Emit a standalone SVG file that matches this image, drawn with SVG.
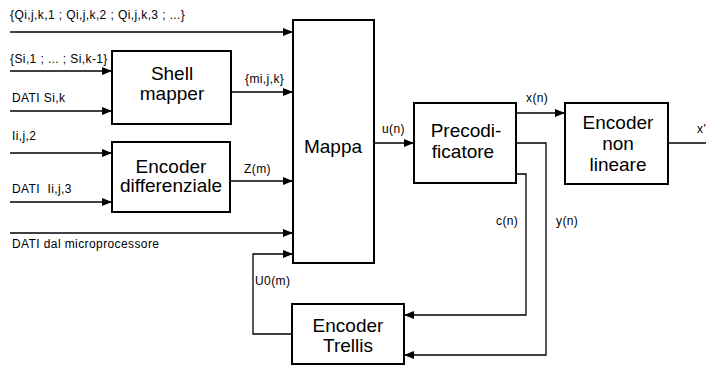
<svg xmlns="http://www.w3.org/2000/svg" width="706" height="367" viewBox="0 0 706 367">
<defs>
<marker id="ah" markerWidth="10" markerHeight="8" refX="10" refY="4" orient="auto" markerUnits="userSpaceOnUse">
<path d="M0,0 L10,4 L0,8 Z" fill="#000"/>
</marker>
<style>
.box{fill:#fff;stroke:#000;stroke-width:2}
.ln{fill:none;stroke:#000;stroke-width:1.3}
.big{font-family:"Liberation Sans",Arial,sans-serif;font-size:19px;text-anchor:middle;fill:#000}
.sm{font-family:"Liberation Sans",Arial,sans-serif;font-size:12px;letter-spacing:0.4px;fill:#000}
</style>
</defs>
<rect width="706" height="367" fill="#fff"/>
<g id="connectors">
<path class="ln" d="M10,32 H293" marker-end="url(#ah)"/>
<path class="ln" d="M10,71 H112" marker-end="url(#ah)"/>
<path class="ln" d="M10,111 H112" marker-end="url(#ah)"/>
<path class="ln" d="M231,92 H293" marker-end="url(#ah)"/>
<path class="ln" d="M10,153 H112" marker-end="url(#ah)"/>
<path class="ln" d="M10,202 H112" marker-end="url(#ah)"/>
<path class="ln" d="M230,181 H293" marker-end="url(#ah)"/>
<path class="ln" d="M10,233 H293" marker-end="url(#ah)"/>
<path class="ln" d="M292,334 H253 V254 H293" marker-end="url(#ah)"/>
<path class="ln" d="M374,143 H414" marker-end="url(#ah)"/>
<path class="ln" d="M516,113 H565" marker-end="url(#ah)"/>
<path class="ln" d="M668,143 H706"/>
<path class="ln" d="M516,143 H546 V355 H404" marker-end="url(#ah)"/>
<path class="ln" d="M516,174 H526 V315 H404" marker-end="url(#ah)"/>
<text class="sm" x="10" y="19">{Qi,j,k,1 ; Qi,j,k,2 ; Qi,j,k,3 ; ...}</text>
<text class="sm" x="10" y="63">{Si,1 ; ... ; Si,k-1}</text>
<text class="sm" x="12" y="102">DATI Si,k</text>
<text class="sm" x="245" y="83">{mi,j,k}</text>
<text class="sm" x="12" y="140">Ii,j,2</text>
<text class="sm" x="12" y="193" xml:space="preserve">DATI  Ii,j,3</text>
<text class="sm" x="244" y="173">Z(m)</text>
<text class="sm" x="12" y="248">DATI dal microprocessore</text>
<text class="sm" x="255" y="285">U0(m)</text>
<text class="sm" x="382" y="133">u(n)</text>
<text class="sm" x="526" y="102">x(n)</text>
<text class="sm" x="697" y="133">x'</text>
<text class="sm" x="496" y="225">c(n)</text>
<text class="sm" x="556" y="225">y(n)</text>
</g>
<g id="shell">
<rect class="box" x="112" y="51" width="119" height="73"/>
<text class="big" x="172" y="80">Shell</text>
<text class="big" x="172" y="100">mapper</text>
</g>
<g id="encdiff">
<rect class="box" x="112" y="142" width="118" height="70"/>
<text class="big" x="171" y="173">Encoder</text>
<text class="big" x="171" y="192">differenziale</text>
</g>
<g id="mappa">
<rect class="box" x="293" y="20" width="81" height="243"/>
<text class="big" x="333" y="153">Mappa</text>
</g>
<g id="precod">
<rect class="box" x="414" y="103" width="102" height="80"/>
<text class="big" x="466" y="137">Precodi-</text>
<text class="big" x="463" y="158">ficatore</text>
</g>
<g id="encnl">
<rect class="box" x="565" y="103" width="103" height="81"/>
<text class="big" x="618" y="129">Encoder</text>
<text class="big" x="618" y="150">non</text>
<text class="big" x="618" y="171">lineare</text>
</g>
<g id="trellis">
<rect class="box" x="292" y="304" width="112" height="60"/>
<text class="big" x="348" y="332">Encoder</text>
<text class="big" x="348" y="352">Trellis</text>
</g>
</svg>
